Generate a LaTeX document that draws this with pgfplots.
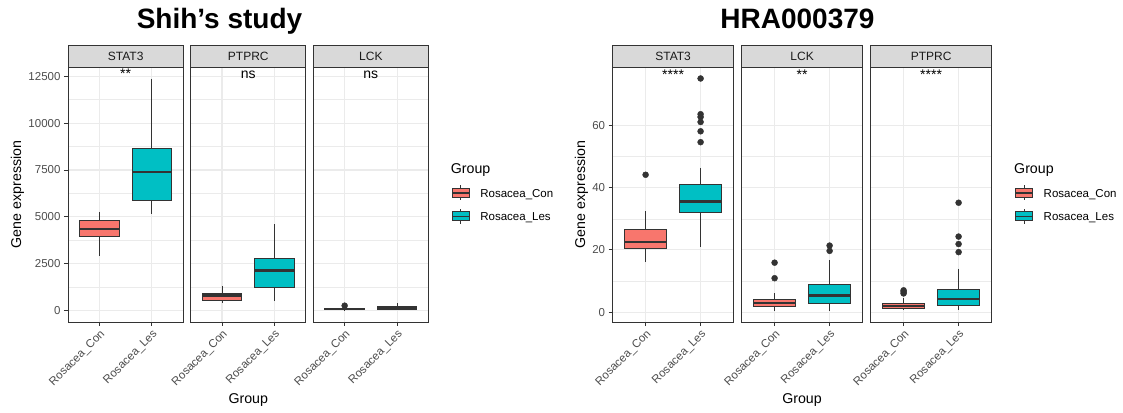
\documentclass[border=0pt]{standalone}
\usepackage{fontspec}
\setmainfont{Liberation Sans}
\usepackage{pgfplots}
\pgfplotsset{compat=1.18}
\usepgfplotslibrary{statistics}
\definecolor{con}{HTML}{F8766D}
\definecolor{les}{HTML}{00BFC4}
\definecolor{grey20}{HTML}{333333}
\definecolor{grey30}{HTML}{4D4D4D}
\definecolor{grey92}{HTML}{EBEBEB}
\definecolor{grey85}{HTML}{D9D9D9}
\definecolor{grey10}{HTML}{1A1A1A}
\newcommand{\tickfont}{\fontsize{11.5}{13}\selectfont}
\newcommand{\stripfont}{\fontsize{12}{14}\selectfont}
\newcommand{\titlefont}{\fontsize{14.2}{16}\selectfont}
\newcommand{\bp}[7]{\addplot[boxplot prepared={draw position=#1, lower whisker=#2, lower quartile=#3, median=#4, upper quartile=#5, upper whisker=#6}, fill=#7, draw=grey20, line width=1pt, mark=*, mark size=3pt, mark options={fill=grey20,draw=grey20,line width=0.4pt}]}
\tikzset{sig/.style={font=\fontsize{14}{16}\selectfont, anchor=base, text=black}}
\pgfplotsset{
  panel/.style={
    scale only axis, height=255pt, anchor=south west,
    xmin=0.4, xmax=2.6, xtick={1,2}, xticklabels={Rosacea\_Con,Rosacea\_Les},
    xticklabel style={rotate=45, anchor=north east, font=\tickfont, text=grey30, inner sep=2pt},
    yticklabel style={font=\tickfont, text=grey30},
    /pgf/number format/assume math mode=true, /pgf/number format/1000 sep={},
    scaled y ticks=false,
    tick align=outside, tick pos=left, major tick length=4pt, minor tick length=0pt,
    every tick/.style={grey20, line width=0.9pt},
    grid=both, minor y tick num=1,
    major grid style={grey92, line width=1.1pt},
    minor grid style={grey92, line width=0.6pt},
    axis line style={grey20, line width=0.9pt},
    boxplot/draw direction=y,
    boxplot/box extend=0.75,
    boxplot/whisker extend=0,
    boxplot/every median/.style={line width=2.4pt},
  },
  inner/.style={yticklabels={}, y tick style={draw=none}},
  leftp/.style={panel, width=115.3pt, ymin=-600, ymax=12990, ytick={0,2500,5000,7500,10000,12500}},
  rightp/.style={panel, width=121pt, ymin=-3.2, ymax=78.9, ytick={0,20,40,60}},
}
\begin{document}
\begin{tikzpicture}[x=1pt,y=1pt]
\path[use as bounding box] (0,0) rectangle (1123,412);
% ---------------- Left: Shih's study ----------------
\begin{axis}[leftp, at={(68pt,90pt)}]
\bp{1}{2926}{3972}{4362}{4824}{5282}{con} coordinates {};
\bp{2}{5177}{5868}{7394}{8654}{12376}{les} coordinates {};
\node[sig] at (axis cs:1.5,12367) {**};
\end{axis}
\begin{axis}[leftp, inner, at={(190.6pt,90pt)}]
\bp{1}{408}{567}{816}{941}{1294}{con} coordinates {};
\bp{2}{514}{1259}{2145}{2766}{4610}{les} coordinates {};
\node[sig] at (axis cs:1.5,12367) {ns};
\end{axis}
\begin{axis}[leftp, inner, at={(313.2pt,90pt)}]
\bp{1}{10}{40}{80}{130}{190}{con} table[row sep=\\, y index=0] {data\\ 270\\};
\bp{2}{30}{80}{150}{230}{410}{les} coordinates {};
\node[sig] at (axis cs:1.5,12367) {ns};
\end{axis}
% strips
\foreach \xa/\lab in {68/STAT3, 190.6/PTPRC, 313.2/LCK}{
  \filldraw[fill=grey85, draw=grey20, line width=0.9pt] (\xa,345) rectangle (\xa+115.3,367);
  \node[font=\stripfont, text=grey10] at (\xa+57.65,356) {\lab};
}
% ---------------- Right: HRA000379 ----------------
\begin{axis}[rightp, at={(612.6pt,90pt)}]
\bp{1}{16.1}{20.4}{22.5}{26.5}{32.4}{con} table[row sep=\\, y index=0] {data\\ 44.2\\};
\bp{2}{20.9}{32.0}{35.6}{41.1}{46.5}{les} table[row sep=\\, y index=0] {data\\ 54.7\\ 58.2\\ 61.2\\ 62.8\\ 63.7\\ 75.2\\};
\node[sig] at (axis cs:1.5,74.9) {****};
\end{axis}
\begin{axis}[rightp, inner, at={(741.6pt,90pt)}]
\bp{1}{0.5}{1.9}{3.0}{4.2}{6.2}{con} table[row sep=\\, y index=0] {data\\ 10.9\\ 15.9\\};
\bp{2}{0.5}{2.6}{5.3}{8.8}{16.8}{les} table[row sep=\\, y index=0] {data\\ 19.7\\ 21.4\\};
\node[sig] at (axis cs:1.5,74.9) {**};
\end{axis}
\begin{axis}[rightp, inner, at={(870.6pt,90pt)}]
\bp{1}{0.8}{1.3}{2.0}{2.8}{4.6}{con} table[row sep=\\, y index=0] {data\\ 6.0\\ 6.5\\ 7.0\\};
\bp{2}{0.8}{2.2}{4.3}{7.3}{14.0}{les} table[row sep=\\, y index=0] {data\\ 19.3\\ 21.9\\ 24.3\\ 35.2\\};
\node[sig] at (axis cs:1.5,74.9) {****};
\end{axis}
\foreach \xa/\lab in {612.6/STAT3, 741.6/LCK, 870.6/PTPRC}{
  \filldraw[fill=grey85, draw=grey20, line width=0.9pt] (\xa,345) rectangle (\xa+121,367);
  \node[font=\stripfont, text=grey10] at (\xa+60.5,356) {\lab};
}
% titles and axis titles
\node[font=\fontsize{28}{32}\selectfont\bfseries, anchor=base] at (219.5,383) {Shih’s study};
\node[font=\fontsize{28}{32}\selectfont\bfseries, anchor=base] at (797.5,383) {HRA000379};
\node[font=\titlefont, rotate=90] at (17.5,217.5) {Gene expression};
\node[font=\titlefont, rotate=90] at (581.5,217.5) {Gene expression};
\node[font=\titlefont, anchor=base] at (248.3,9) {Group};
\node[font=\titlefont, anchor=base] at (802,9) {Group};
% legends
\foreach \lx in {450.7, 1014}{
  \node[font=\titlefont, anchor=base west, inner sep=0pt] at (\lx,238) {Group};
  \foreach \cy/\col/\lab in {219/con/Rosacea\_Con, 195.5/les/Rosacea\_Les}{
    \draw[grey20, line width=1pt] (\lx+10,\cy+4.5) -- (\lx+10,\cy+7.5);
    \draw[grey20, line width=1pt] (\lx+10,\cy-4.5) -- (\lx+10,\cy-7.5);
    \filldraw[fill=\col, draw=grey20, line width=1pt] (\lx+1.5,\cy-4.5) rectangle (\lx+18.5,\cy+4.5);
    \draw[grey20, line width=1.8pt] (\lx+1.5,\cy) -- (\lx+18.5,\cy);
    \node[font=\tickfont, anchor=base west, inner sep=0pt] at (\lx+29.5,\cy-4.1) {\lab};
  }
}
\end{tikzpicture}
\end{document}
